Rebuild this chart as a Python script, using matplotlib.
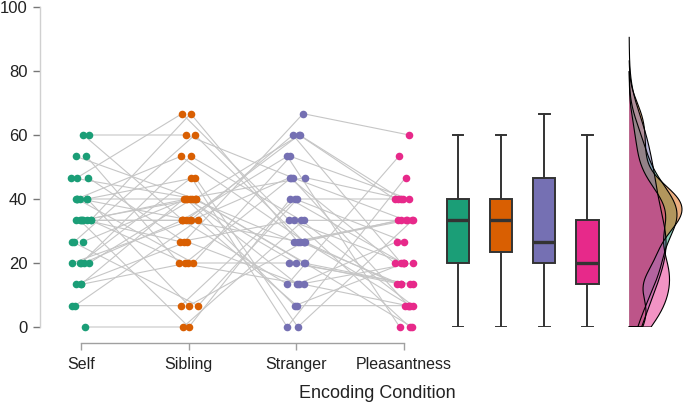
import numpy as np
import matplotlib
matplotlib.use("Agg")
import matplotlib.pyplot as plt

plt.rcParams['font.family'] = ['Liberation Sans', 'DejaVu Sans']

conditions = ["Self", "Sibling", "Stranger", "Pleasantness"]
colors = ["#1b9e77", "#d95f02", "#7570b3", "#e7298a"]

# per-subject scores (% correct), same subject order in every list
self_scores = [60, 60, 53.33, 53.33, 46.67, 46.67, 46.67, 40, 40, 40, 40, 40, 40,
               33.33, 33.33, 33.33, 33.33, 33.33, 33.33, 33.33, 33.33,
               26.67, 26.67, 26.67, 20, 20, 20, 20, 20, 13.33, 13.33, 13.33,
               6.67, 6.67, 0]
sibling_scores = [33.33, 60, 20, 40, 66.67, 26.67, 40, 6.67, 46.67, 33.33, 20, 53.33,
                  40, 0, 40, 33.33, 66.67, 26.67, 40, 20, 33.33, 60, 40, 6.67,
                  33.33, 53.33, 46.67, 40, 33.33, 20, 40, 26.67, 6.67, 33.33, 0]
stranger_scores = [26.67, 46.67, 13.33, 60, 33.33, 66.67, 20, 26.67, 0, 46.67, 53.33,
                   26.67, 13.33, 40, 20, 60, 26.67, 33.33, 6.67, 46.67, 13.33, 26.67,
                   20, 40, 60, 33.33, 0, 26.67, 53.33, 20, 46.67, 13.33, 40, 6.67, 33.33]
pleasant_scores = [13.33, 33.33, 6.67, 40, 20, 60, 0, 13.33, 33.33, 20, 40, 6.67,
                   26.67, 20, 13.33, 40, 33.33, 0, 20, 6.67, 53.33, 33.33, 13.33, 40,
                   20, 6.67, 46.67, 33.33, 0, 13.33, 40, 20, 26.67, 6.67, 33.33]
y_ticks = [0, 20, 40, 60, 80, 100]

data = [np.array(self_scores), np.array(sibling_scores),
        np.array(stranger_scores), np.array(pleasant_scores)]
n = len(self_scores)

fig = plt.figure(figsize=(6.85, 4.04), dpi=100)
ax = fig.add_axes([40/685, 77/404, 645/685, 320/404])
ax.set_xlim(-0.381, 5.608)
ax.set_ylim(0, 100)

# jitter (positional only)
rng = np.random.default_rng(7)
jit = [rng.uniform(-0.09, 0.09, n) for _ in range(4)]
xs = [i + jit[i] for i in range(4)]

# subject lines
for s in range(n):
    ax.plot([xs[c][s] for c in range(4)], [data[c][s] for c in range(4)],
            color="#c6c6c6", lw=0.8, zorder=1, clip_on=False)
for c in range(4):
    ax.scatter(xs[c], data[c], s=30, color=colors[c], zorder=3, linewidths=0,
               clip_on=False)

# boxplots
box_pos = [3.5, 3.9, 4.3, 4.7]
bp = ax.boxplot(data, positions=box_pos, widths=0.21, patch_artist=True,
                showfliers=False, whis=1.5, manage_ticks=False,
                boxprops=dict(edgecolor="#333333", linewidth=1.4),
                whiskerprops=dict(color="#333333", linewidth=1.4),
                capprops=dict(color="#333333", linewidth=1.4),
                medianprops=dict(color="#333333", linewidth=2.4))
for patch, col in zip(bp['boxes'], colors):
    patch.set_facecolor(col)
for cap in bp['caps']:
    xd = cap.get_xdata()
    m = np.mean(xd)
    cap.set_xdata([m - 0.05, m + 0.05])

# half violins (gaussian KDE, nrd0 bandwidth, cut = 3 bw)
def nrd0(x):
    sd = np.std(x, ddof=1)
    q75, q25 = np.percentile(x, [75, 25])
    lo = min(sd, (q75 - q25) / 1.34)
    return 0.9 * lo * len(x) ** (-0.2)

dens = []
for d in data:
    bw = nrd0(d)
    y = np.linspace(max(0, d.min() - 3 * bw), d.max() + 3 * bw, 400)
    k = np.exp(-0.5 * ((y[:, None] - d[None, :]) / bw) ** 2).sum(axis=1)
    k = k / (len(d) * bw * np.sqrt(2 * np.pi))
    dens.append((y, k))
gmax = max(k.max() for _, k in dens)
vx = 5.09
vw = 0.49
for (y, k), col in zip(dens, colors):
    ax.fill_betweenx(y, vx, vx + k / gmax * vw, facecolor=col, alpha=0.5,
                     edgecolor="none", zorder=4)
    xx = np.concatenate([[vx], vx + k / gmax * vw, [vx]])
    yy = np.concatenate([[y[0]], y, [y[-1]]])
    ax.plot(xx, yy, color="black", lw=0.8, zorder=5)

# axes styling
for sp in ["top", "right"]:
    ax.spines[sp].set_visible(False)
ax.spines["left"].set_color("#d0d0d0")
ax.spines["left"].set_linewidth(1.0)
ax.spines["left"].set_bounds(0, 100)
ax.spines["bottom"].set_position(("outward", 11.5))
ax.spines["bottom"].set_bounds(0, 3)
ax.spines["bottom"].set_color("#a0a0a0")
ax.spines["bottom"].set_linewidth(1.0)

ax.set_yticks(y_ticks)
ax.set_yticklabels([str(t) for t in y_ticks])
ax.set_xticks(range(4))
ax.set_xticklabels(conditions)
ax.tick_params(axis="y", length=5, width=1, color="#777777", labelsize=12,
               labelcolor="#222222", pad=4)
ax.tick_params(axis="x", length=5, width=1, color="#a0a0a0", labelsize=11.5,
               labelcolor="#222222", pad=5)
ax.set_xlabel("Encoding Condition", fontsize=13, color="#222222")
ax.xaxis.set_label_coords((377 - 40) / 645, -0.207)
ax.xaxis.label.set_va("center")

fig.savefig("out.png", dpi=100)
